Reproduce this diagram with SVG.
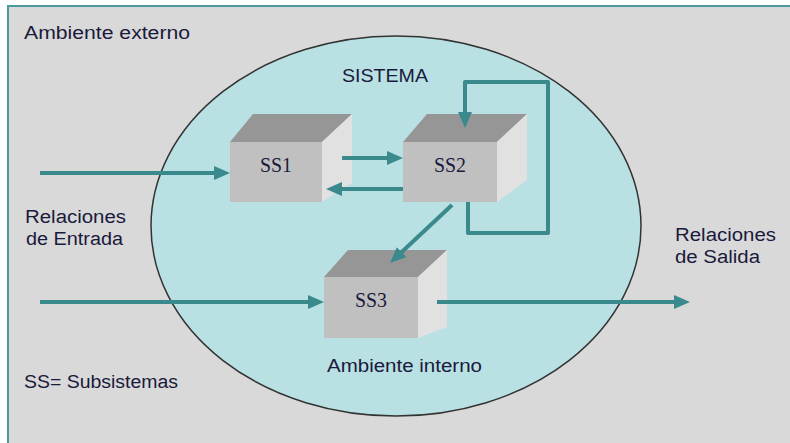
<svg xmlns="http://www.w3.org/2000/svg" width="790" height="443" viewBox="0 0 790 443">
<defs>
<style>
.t{font-family:"Liberation Sans",Arial,sans-serif;font-size:18px;fill:#1a1a3c}
.s{font-family:"Liberation Serif","Times New Roman",serif;font-size:21px;fill:#1a1a3c;text-anchor:middle}
.c{fill:none;stroke:#3a8a8d;stroke-width:4;marker-end:url(#ah)}
.front{fill:#c0c0c0}
.top{fill:#969696}
.side{fill:#e1e1e1}
</style>
<marker id="ah" markerUnits="userSpaceOnUse" markerWidth="18" markerHeight="16" refX="4" refY="7" orient="auto">
<path d="M0,0 L16,7 L0,14 z" fill="#3a8a8d"/>
</marker>
</defs>
<rect x="0" y="0" width="790" height="443" fill="#ffffff"/>
<rect x="8" y="6" width="790" height="445" fill="#d9d9d9" stroke="#4a9a9c" stroke-width="2"/>
<ellipse cx="396" cy="226" rx="245" ry="190" fill="#b9e0e3" stroke="#333" stroke-width="1.5"/>
<g id="texts">
<text class="t" x="24" y="39" textLength="166" lengthAdjust="spacingAndGlyphs">Ambiente externo</text>
<text class="t" x="342" y="82" textLength="86" lengthAdjust="spacingAndGlyphs">SISTEMA</text>
<text class="t" x="25" y="223" textLength="101" lengthAdjust="spacingAndGlyphs">Relaciones</text>
<text class="t" x="26" y="245" textLength="97" lengthAdjust="spacingAndGlyphs">de Entrada</text>
<text class="t" x="675" y="241" textLength="101" lengthAdjust="spacingAndGlyphs">Relaciones</text>
<text class="t" x="675" y="263" textLength="85" lengthAdjust="spacingAndGlyphs">de Salida</text>
<text class="t" x="327" y="372" textLength="155" lengthAdjust="spacingAndGlyphs">Ambiente interno</text>
<text class="t" x="24" y="388" textLength="154" lengthAdjust="spacingAndGlyphs">SS= Subsistemas</text>
</g>
<g id="SS1">
<rect class="front" x="230" y="142" width="92" height="60"/>
<polygon class="top" points="230,142 253,114 352,114 322,142"/>
<polygon class="side" points="322,142 352,114 352,183 322,202"/>
<text class="s" x="276" y="172" textLength="32" lengthAdjust="spacingAndGlyphs">SS1</text>
</g>
<g id="SS2">
<rect class="front" x="403" y="142" width="94" height="60"/>
<polygon class="top" points="403,142 427,114 527,114 497,142"/>
<polygon class="side" points="497,142 527,114 527,180 497,202"/>
<text class="s" x="450" y="172" textLength="32" lengthAdjust="spacingAndGlyphs">SS2</text>
</g>
<g id="SS3">
<rect class="front" x="324" y="277" width="94" height="61"/>
<polygon class="top" points="324,277 348,250 447,250 418,277"/>
<polygon class="side" points="418,277 447,250 447,327 418,338"/>
<text class="s" x="371" y="307" textLength="32" lengthAdjust="spacingAndGlyphs">SS3</text>
</g>
<g id="connectors" stroke-linejoin="round">
<path class="c" d="M40,173 H218"/>
<path class="c" d="M342,158 H391"/>
<path class="c" d="M403,189 H338"/>
<path class="c" d="M468,202 V233 H548 V82 H465 V116"/>
<path class="c" d="M452,205 L398.8,254.8"/>
<path class="c" d="M40,302 H312"/>
<path class="c" d="M437,302 H678"/>
</g>
</svg>
